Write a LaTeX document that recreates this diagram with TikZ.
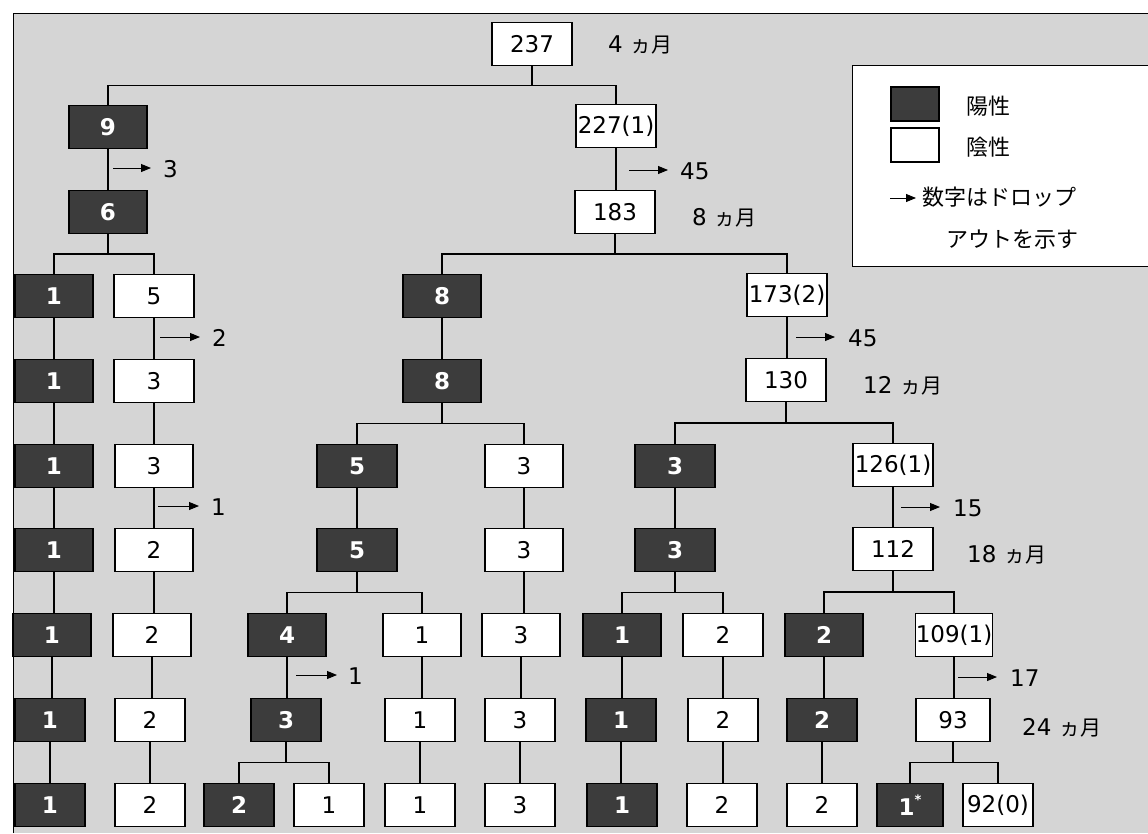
\documentclass[tikz,border=0pt]{standalone}
\usepackage{fontspec}
\setmainfont{DejaVu Sans}
\newfontfamily\jp{Noto Sans CJK JP}
\usetikzlibrary{arrows.meta,calc}
\definecolor{bg}{HTML}{D5D5D5}
\definecolor{dark}{HTML}{3C3C3C}
\newcommand\tbranch[3]{%
  \coordinate (#1-m) at ($(#1.south)!.5!(#1.south|-#2.north)$);
  \draw[link] (#1.south) -- (#1-m);
  \draw[link] (#2.north) |- (#1-m) -| (#3.north);}
\newcommand\tlink[2]{\draw[link] (#1.south) -- (#1.south|-#2.north);}
\newcommand\mon[1]{#1\,\,{\jp\fontsize{21}{22}\selectfont ヵ月}}
\begin{document}
\begin{tikzpicture}[x=1pt,y=-1pt,
  box/.style={draw=black,line width=1.2pt,minimum width=78pt,minimum height=43pt,inner sep=0pt,font=\fontsize{23}{25}\selectfont},
  posbox/.style={box,fill=dark,text=white,font=\fontsize{23}{25}\selectfont\bfseries},
  negbox/.style={box,fill=white,text=black},
  narrow/.style={minimum width=70pt},
  wide/.style={minimum width=80pt},
  lbl/.style={font=\fontsize{23}{25}\selectfont,inner sep=0pt,anchor=west},
  jlbl/.style={font=\jp\fontsize{22}{24}\selectfont,inner sep=0pt,anchor=west},
  drop/.style={line width=0.9pt,-{Triangle[length=10pt,width=8pt]}},
  link/.style={line width=1.2pt}]
\useasboundingbox (0,0) rectangle (1148,833);
% background and frame
\fill[white] (0,0) rectangle (1148,833);
\fill[bg] (13,13) rectangle (1148,833);
\draw[line width=1pt] (13,833) -- (13,13) -- (1148,13);
% legend
\draw[line width=1pt,fill=white] (852,65) rectangle (1170,266);
\node[posbox,minimum width=48pt,minimum height=34pt] (lp) at (915,104) {};
\node[negbox,minimum width=48pt,minimum height=34pt] (ln) at (915,145) {};
\node[jlbl] (lpt) at (966,106) {陽性};
\node[jlbl] (lnt) at (966,147) {陰性};
\coordinate (la1) at (890,198);
\coordinate (la2) at (916,198);
\draw[drop] (la1) -- (la2);
\node[jlbl] (lt1) at (922,197) {数字はドロップ};
\node[jlbl] (lt2) at (946,240) {アウトを示す};
% row 0
\node[negbox,wide] (n237) at (532,44) {237};
\node[lbl] (m4) at (608,45) {\mon{4}};
% row 1
\node[posbox] (n9) at (108,127) {9};
\node[negbox,wide] (n227) at (616,126) {227(1)};
% row 2
\node[posbox] (n6) at (108,212) {6};
\node[negbox,wide] (n183) at (615,212) {183};
\node[lbl] (m8) at (692,218) {\mon{8}};
% row 3
\node[posbox] (a1) at (54,296) {1};
\node[negbox,wide] (b5) at (154,296) {5};
\node[posbox] (c8) at (442,296) {8};
\node[negbox,wide] (r173) at (787,295) {173(2)};
% row 4
\node[posbox] (a2) at (54,381) {1};
\node[negbox,wide] (b3) at (154,381) {3};
\node[posbox] (c8b) at (442,381) {8};
\node[negbox,wide] (r130) at (786,380) {130};
\node[lbl] (m12) at (863,386) {\mon{12}};
% row 5
\node[posbox] (a3) at (54,466) {1};
\node[negbox] (b3b) at (154,466) {3};
\node[posbox,wide] (c5) at (357,466) {5};
\node[negbox] (c3) at (524,466) {3};
\node[posbox,wide] (r3) at (675,466) {3};
\node[negbox,wide] (r126) at (893,465) {126(1)};
% row 6
\node[posbox] (a4) at (54,550) {1};
\node[negbox] (b2) at (154,550) {2};
\node[posbox,wide] (c5b) at (357,550) {5};
\node[negbox] (c3b) at (524,550) {3};
\node[posbox,wide] (r3b) at (675,550) {3};
\node[negbox,wide] (r112) at (893,549) {112};
\node[lbl] (m18) at (967,555) {\mon{18}};
% row 7
\node[posbox] (a5) at (52,635) {1};
\node[negbox] (b2b) at (152,635) {2};
\node[posbox] (c4) at (287,635) {4};
\node[negbox] (c1) at (422,635) {1};
\node[negbox] (c3c) at (521,635) {3};
\node[posbox] (r1) at (622,635) {1};
\node[negbox,wide] (r2) at (723,635) {2};
\node[posbox] (s2) at (824,635) {2};
\node[negbox,minimum width=74pt] (s109) at (954,635) {109(1)};
% row 8
\node[posbox,narrow] (a6) at (50,720) {1};
\node[negbox,narrow] (b2c) at (150,720) {2};
\node[posbox,narrow] (c3d) at (286,720) {3};
\node[negbox,narrow] (c1b) at (420,720) {1};
\node[negbox,narrow] (c3e) at (520,720) {3};
\node[posbox,narrow] (r1b) at (621,720) {1};
\node[negbox,narrow] (r2b) at (723,720) {2};
\node[posbox,narrow] (s2b) at (822,720) {2};
\node[negbox,minimum width=74pt] (s93) at (953,720) {93};
\node[lbl] (m24) at (1022,728) {\mon{24}};
% row 9
\node[posbox,narrow] (a7) at (50,805) {1};
\node[negbox,narrow] (b2d) at (150,805) {2};
\node[posbox,narrow] (c2) at (239,805) {2};
\node[negbox,narrow] (c1c) at (329,805) {1};
\node[negbox,narrow] (c1d) at (420,805) {1};
\node[negbox,narrow] (c3f) at (520,805) {3};
\node[posbox,narrow] (r1c) at (622,805) {1};
\node[negbox,narrow] (r2c) at (722,805) {2};
\node[negbox,narrow] (s2c) at (822,805) {2};
\node[posbox,minimum width=66pt] (s1) at (910,805) {1\raisebox{.45em}{\fontsize{13}{13}\selectfont *}};
\node[negbox,narrow] (s92) at (998,805) {92(0)};
% tree connectors
\tbranch{n237}{n9}{n227}
\tlink{n9}{n6}
\tlink{n227}{n183}
\tbranch{n6}{a1}{b5}
\tlink{a1}{a2}\tlink{a2}{a3}\tlink{a3}{a4}\tlink{a4}{a5}\tlink{a5}{a6}\tlink{a6}{a7}
\tlink{b5}{b3}\tlink{b3}{b3b}\tlink{b3b}{b2}\tlink{b2}{b2b}\tlink{b2b}{b2c}\tlink{b2c}{b2d}
\tbranch{n183}{c8}{r173}
\tlink{c8}{c8b}
\tbranch{c8b}{c5}{c3}
\tlink{c5}{c5b}
\tbranch{c5b}{c4}{c1}
\tlink{c4}{c3d}
\tbranch{c3d}{c2}{c1c}
\tlink{c1}{c1b}\tlink{c1b}{c1d}
\tlink{c3}{c3b}\tlink{c3b}{c3c}\tlink{c3c}{c3e}\tlink{c3e}{c3f}
\tlink{r173}{r130}
\tbranch{r130}{r3}{r126}
\tlink{r3}{r3b}
\tbranch{r3b}{r1}{r2}
\tlink{r1}{r1b}\tlink{r1b}{r1c}
\tlink{r2}{r2b}\tlink{r2b}{r2c}
\tlink{r126}{r112}
\tbranch{r112}{s2}{s109}
\tlink{s2}{s2b}\tlink{s2b}{s2c}
\tlink{s109}{s93}
\tbranch{s93}{s1}{s92}
% dropout arrows
\coordinate (d1a) at (113,168); \coordinate (d1b) at (151,168);
\draw[drop] (d1a) -- (d1b); \node[lbl] (d1) at (163,169) {3};
\coordinate (d2a) at (629,170); \coordinate (d2b) at (668,170);
\draw[drop] (d2a) -- (d2b); \node[lbl] (d2) at (680,171) {45};
\coordinate (d3a) at (160,337); \coordinate (d3b) at (200,337);
\draw[drop] (d3a) -- (d3b); \node[lbl] (d3) at (212,338) {2};
\coordinate (d4a) at (796,337); \coordinate (d4b) at (835,337);
\draw[drop] (d4a) -- (d4b); \node[lbl] (d4) at (848,338) {45};
\coordinate (d5a) at (158,506); \coordinate (d5b) at (199,506);
\draw[drop] (d5a) -- (d5b); \node[lbl] (d5) at (211,507) {1};
\coordinate (d6a) at (901,507); \coordinate (d6b) at (940,507);
\draw[drop] (d6a) -- (d6b); \node[lbl] (d6) at (953,508) {15};
\coordinate (d7a) at (296,675); \coordinate (d7b) at (337,675);
\draw[drop] (d7a) -- (d7b); \node[lbl] (d7) at (348,676) {1};
\coordinate (d8a) at (958,677); \coordinate (d8b) at (997,677);
\draw[drop] (d8a) -- (d8b); \node[lbl] (d8) at (1010,678) {17};
\end{tikzpicture}
\end{document}
